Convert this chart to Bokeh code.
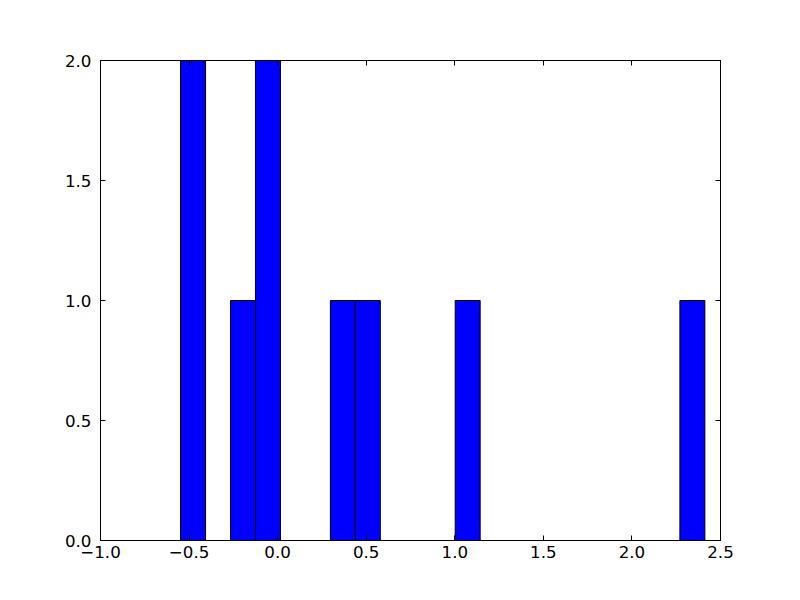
from bokeh.plotting import figure
from bokeh.models import Range1d, LinearAxis, FixedTicker, CustomJSTickFormatter, ColumnDataSource
from bokeh.embed import file_html
from bokeh.resources import INLINE

# Histogram data
bin_start = -0.548
bin_width = 0.14094
bin_index = [0, 2, 3, 6, 7, 11, 20]
counts = [2, 1, 2, 1, 1, 1, 1]
x_ticks = [-1.0, -0.5, 0.0, 0.5, 1.0, 1.5, 2.0, 2.5]
y_ticks = [0.0, 0.5, 1.0, 1.5, 2.0]

lefts = [bin_start + i * bin_width for i in bin_index]
rights = [l + bin_width for l in lefts]
src = ColumnDataSource(dict(left=lefts, right=rights, top=counts, bottom=[0] * len(counts)))

p = figure(width=784, height=584, output_backend="svg", toolbar_location=None,
           x_range=Range1d(-1.0, 2.5), y_range=Range1d(0, 2.0),
           min_border_left=100, min_border_right=64, min_border_top=60, min_border_bottom=44,
           x_axis_location=None, y_axis_location=None)
p.grid.visible = False
p.outline_line_color = "black"
p.outline_line_width = 1
p.outline_line_alpha = 1.0

p.quad(left="left", right="right", top="top", bottom="bottom", source=src,
       fill_color="#0000ff", line_color="black", line_width=1)

fmt = CustomJSTickFormatter(code="return tick.toFixed(1).replace('-', '\u2212');")

def make_axis(ticks, labels):
    ax = LinearAxis(ticker=FixedTicker(ticks=ticks), formatter=fmt)
    ax.major_tick_in = 5
    ax.major_tick_out = 0
    ax.minor_tick_line_color = None
    ax.axis_line_color = "black"
    ax.major_tick_line_color = "black"
    ax.major_label_text_font = "DejaVu Sans"
    ax.major_label_text_font_size = "16.7px"
    ax.major_label_text_color = "black"
    if not labels:
        ax.major_label_text_alpha = 0
        ax.major_label_text_font_size = "1px"
        ax.major_label_standoff = 0
    return ax

xb = make_axis(x_ticks, True)
xb.major_label_standoff = 5
p.add_layout(xb, "below")
yl = make_axis(y_ticks, True)
yl.major_label_standoff = 9
p.add_layout(yl, "left")
p.add_layout(make_axis(x_ticks, False), "above")
p.add_layout(make_axis(y_ticks, False), "right")

open("out.html", "w").write(file_html(p, INLINE))
